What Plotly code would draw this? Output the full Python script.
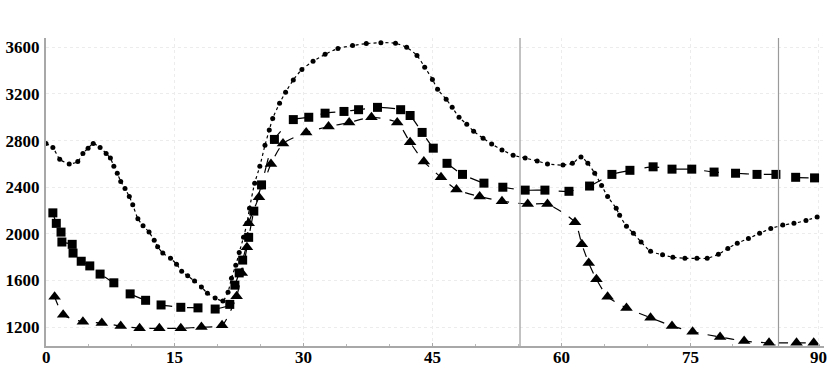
import plotly.graph_objects as go

# Series 1: circles (dotted line)
circ_x = [0.0, 0.8, 1.6, 2.7, 3.7, 4.3, 4.9, 5.5, 6.3, 7.0, 7.5, 7.9, 8.3, 8.7, 9.2, 9.7, 10.1,
          10.7, 11.3, 12.0, 12.6, 13.0, 13.6, 14.5, 15.2, 15.8, 16.5, 17.3, 18.1, 18.8, 19.7, 20.6,
          21.2, 21.6, 22.1, 22.5, 23.0, 23.4, 23.7, 24.3, 24.9, 25.5, 26.0, 26.4, 27.2, 27.9, 28.8,
          29.8, 31.1, 32.5, 34.0, 35.7, 37.3, 39.0, 40.7, 42.0, 43.2, 44.1, 45.0, 45.6, 46.6, 47.3,
          48.1, 49.0, 49.8, 50.9, 51.9, 53.1, 54.4, 55.8, 57.2, 58.4, 60.2, 61.3, 62.3, 63.1, 63.9,
          64.7, 65.4, 66.4, 66.8, 67.6, 68.4, 69.3, 70.4, 71.8, 73.0, 74.4, 75.8, 77.0, 78.3, 79.4,
          80.5, 81.8, 83.1, 84.4, 85.8, 87.1, 88.5, 89.8]
circ_y = [2775, 2740, 2640, 2600, 2620, 2690, 2735, 2775, 2740, 2690, 2650, 2580, 2520, 2450, 2390, 2320, 2250,
          2130, 2070, 2015, 1945, 1890, 1835, 1790, 1740, 1680, 1640, 1595, 1545, 1490, 1450, 1425,
          1500, 1620, 1730, 1840, 1970, 2090, 2220, 2435, 2580, 2760, 2890, 2990, 3120, 3215, 3320,
          3410, 3480, 3540, 3590, 3615, 3632, 3640, 3635, 3600, 3530, 3430, 3325, 3240, 3155, 3085,
          3000, 2940, 2880, 2820, 2770, 2720, 2675, 2650, 2625, 2600, 2590, 2605, 2660, 2605, 2520,
          2415, 2320, 2220, 2160, 2065, 2005, 1930, 1850, 1820, 1800, 1790, 1790, 1790, 1825, 1875,
          1920, 1960, 2005, 2045, 2075, 2090, 2115, 2145]

# Series 2: squares
sq_x = [0.8, 1.2, 1.75, 1.85, 3.05, 3.15, 4.1, 5.1, 6.3, 7.9, 9.8, 11.6, 13.4, 15.7, 17.7, 19.7,
        21.4, 22.0, 22.5, 22.9, 23.6, 24.2, 25.1, 26.6, 28.8, 30.6, 32.5, 34.7, 36.4, 38.6, 41.3,
        42.4, 43.8, 45.1, 46.7, 48.5, 51.0, 53.2, 55.8, 58.1, 60.9, 63.3, 65.9, 68.0, 70.7, 72.9,
        75.2, 77.8, 80.3, 82.8, 85.0, 87.3, 89.5]
sq_y = [2180, 2090, 2015, 1930, 1910, 1835, 1765, 1725, 1655, 1580, 1485, 1430, 1390, 1370, 1365, 1355,
        1395, 1560, 1665, 1775, 1970, 2195, 2420, 2810, 2980, 3000, 3035, 3050, 3065, 3085, 3065,
        3015, 2870, 2735, 2605, 2510, 2435, 2400, 2375, 2375, 2365, 2410, 2510, 2545, 2575, 2555,
        2555, 2530, 2520, 2510, 2510, 2485, 2480]

# Series 3: triangles
tri_x = [1.0, 2.0, 4.3, 6.5, 8.7, 10.9, 13.2, 15.7, 18.1, 20.5, 22.2, 22.8, 23.4, 23.6, 24.8, 26.2,
         27.6, 30.3, 32.9, 35.3, 37.9, 40.9, 42.4, 44.0, 46.0, 47.8, 50.5, 53.1, 56.1, 58.4, 61.6,
         62.4, 63.2, 64.1, 65.4, 67.6, 70.4, 72.9, 75.3, 78.5, 81.3, 84.2, 87.4, 89.4]
tri_y = [1460, 1305, 1245, 1235, 1210, 1190, 1190, 1190, 1200, 1215, 1465, 1665, 1885, 2090, 2315, 2600,
         2775, 2870, 2920, 2955, 3000, 2955, 2785, 2620, 2485, 2380, 2320, 2280, 2255, 2255, 2100,
         1910, 1750, 1610, 1460, 1365, 1280, 1210, 1160, 1115, 1080, 1065, 1065, 1065]

x_ticks = [0, 15, 30, 45, 60, 75, 90]
y_ticks = [1200, 1600, 2000, 2400, 2800, 3200, 3600]
v_lines = [55.2, 85.3]

fig = go.Figure()
fig.add_trace(go.Scatter(x=circ_x, y=circ_y, mode="lines+markers",
                         line=dict(color="black", width=1.2, dash="dot", shape="spline", smoothing=0.6),
                         marker=dict(symbol="circle", size=5, color="black")))
fig.add_trace(go.Scatter(x=sq_x, y=sq_y, mode="lines+markers",
                         line=dict(color="black", width=1.2, dash="longdash", shape="spline", smoothing=0.6),
                         marker=dict(symbol="square", size=9, color="black")))
fig.add_trace(go.Scatter(x=tri_x, y=tri_y, mode="lines+markers",
                         line=dict(color="black", width=1.2, dash="dash", shape="spline", smoothing=0.6),
                         marker=dict(symbol="triangle-up", size=11, color="black")))

for v in v_lines:
    fig.add_shape(type="line", x0=v, x1=v, y0=0, y1=1, yref="paper", xref="x",
                  line=dict(color="#9a9a9a", width=1.2))

# x tick labels placed right under the axis line
for t in x_ticks:
    fig.add_annotation(x=t, y=0, xref="x", yref="paper", text=f"<b>{t}</b>",
                       showarrow=False, yanchor="top", xanchor="center", yshift=0,
                       font=dict(family="Liberation Serif", size=17, color="black"))

fig.update_layout(
    width=831, height=376,
    margin=dict(l=46, r=7, t=38, b=30, autoexpand=False),
    paper_bgcolor="white", plot_bgcolor="white",
    showlegend=False,
    font=dict(family="Liberation Serif", size=17, color="black"),
)
fig.update_xaxes(range=[0, 90.6], tickvals=x_ticks, showticklabels=False,
                 automargin=False,
                 showline=True, linecolor="#a8a8a8", linewidth=2,
                 showgrid=True, gridcolor="#ececec", griddash="dot", gridwidth=1,
                 zeroline=False, ticks="inside", ticklen=3, tickcolor="#a8a8a8",
                 minor=dict(dtick=5, ticks="inside", ticklen=2, tickcolor="#b8b8b8", showgrid=False))
fig.update_yaxes(range=[1038, 3680], tickvals=y_ticks, ticktext=[f"<b>{t}</b>" for t in y_ticks],
                 automargin=False,
                 showline=True, linecolor="#a8a8a8", linewidth=2,
                 showgrid=True, gridcolor="#ececec", griddash="dot", gridwidth=1,
                 zeroline=False, ticks="", ticklabelstandoff=1)

fig.write_html("out.html", config={"displayModeBar": False},
               post_script="document.body.style.margin='0';document.body.style.overflow='hidden';")
